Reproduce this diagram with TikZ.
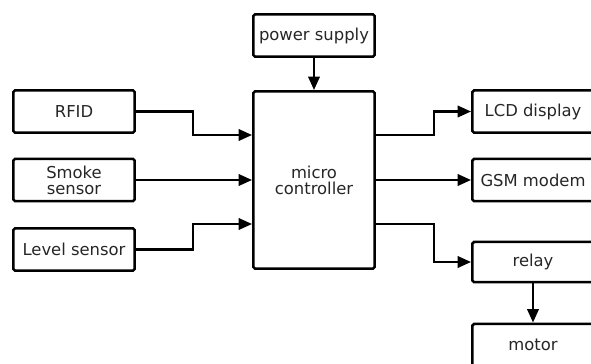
\documentclass[tikz,border=0pt]{standalone}
\usepackage{fontspec}
\setmainfont{DejaVu Sans}
\usetikzlibrary{arrows.meta}

\tikzset{
  block/.style={draw, line width=2.2pt, rounded corners=1.5pt, minimum width=3.64cm, minimum height=1.27cm,
    align=center, font=\fontsize{14}{13.5}\selectfont, text=black!85},
  link/.style={line width=2pt, -{Triangle[length=0.4cm,width=0.34cm]}}
}

\begin{document}
\begin{tikzpicture}[x=0.03cm, y=-0.03cm]
      \useasboundingbox (0,0) rectangle (591,363);

      \node[block] (rfid) at (74,111.5) {RFID};
      \node[block] (smoke) at (74,180) {Smoke\\sensor};
      \node[block] (level) at (74,249.5) {Level sensor};
      \node[block] (power) at (314,35.5) {power supply};
      \node[block, minimum height=5.32cm] (ctrl) at (314,180) {micro\\controller};
      \node[block] (lcd) at (533,111.5) {LCD display};
      \node[block] (gsm) at (533,180) {GSM modem};
      \node[block, minimum height=1.21cm] (relay) at (533,262) {relay};
      \node[block] (motor) at (533,345) {motor};

      % ports on the controller
      \coordinate (in1) at (ctrl.west |- 0,135);
      \coordinate (in3) at (ctrl.west |- 0,224);
      \coordinate (out1) at (ctrl.east |- 0,135);
      \coordinate (out3) at (ctrl.east |- 0,224);

      \draw[link] (rfid.east) -- ++(57,0) |- (in1);
      \draw[link] (smoke.east) -- (ctrl.west);
      \draw[link] (level.east) -- ++(57,0) |- (in3);
      \draw[link] (power.south) -- (ctrl.north);

      \draw[link] (out1) -- ++(58,0) |- (lcd.west);
      \draw[link] (ctrl.east) -- (gsm.west);
      \draw[link] (out3) -- ++(58,0) |- (relay.west);
      \draw[link] (relay.south) -- (motor.north);
    \end{tikzpicture}
\end{document}
